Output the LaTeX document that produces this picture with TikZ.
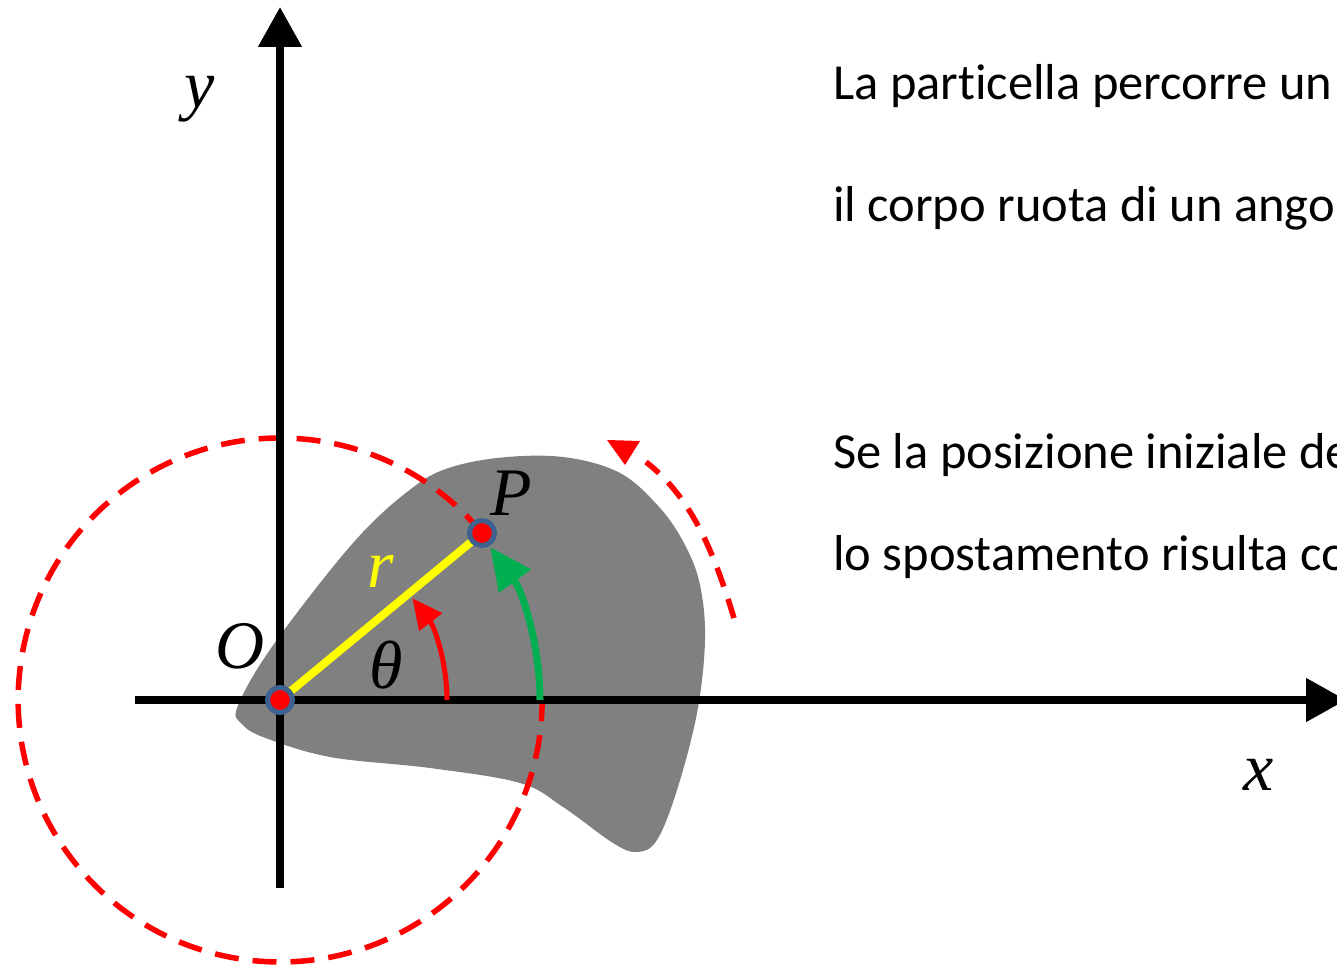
\documentclass[tikz,border=0pt]{standalone}
\usepackage{fontspec}
\setmainfont{Carlito}[Ligatures=NoCommon]
\newfontfamily\mathserif{Liberation Serif}
\usetikzlibrary{arrows.meta}
\definecolor{blobgray}{HTML}{808080}
\definecolor{pred}{HTML}{FF0000}
\definecolor{pyellow}{HTML}{FFFF00}
\definecolor{pgreen}{HTML}{00B050}
\definecolor{ringblue}{HTML}{3E6190}
\tikzset{
  axis/.style={line width=8pt,-{Triangle[length=40pt,width=42pt]}},
  circdash/.style={pred,line width=5.5pt,dash pattern=on 24pt off 14pt},
  pointdot/.style={circle,fill=pred,draw=ringblue,line width=5pt,minimum size=25pt,inner sep=0pt},
  mathlbl/.style={font=\mathserif\itshape\fontsize{68}{80}\selectfont,inner sep=0pt,anchor=base},
  bodytext/.style={font=\fontsize{50.5}{60}\selectfont,inner sep=0pt,anchor=base west},
}
\begin{document}
\begin{tikzpicture}[x=1pt,y=-1pt]
\useasboundingbox (0,0) rectangle (1337,965);
\clip (0,0) rectangle (1337,965);
% rigid body
\fill[blobgray] plot[smooth cycle,tension=0.6] coordinates {
  (237,708) (241,723) (263,737) (330,757) (430,768) (520,783) (563,807)
  (613,843) (637,852) (657,840) (677,790) (697,713) (705,640) (700,585)
  (685,545) (660,508) (620,473) (563,457) (497,458) (443,470) (407,492)
  (363,532) (313,592) (263,660)};
\coordinate (O) at (280,700);
\coordinate (P) at (482,533);
% trajectory circle
\draw[circdash] (P) arc[start angle=39.6,end angle=360,radius=262pt];
% axes
\coordinate (ybot) at (280,888);
\coordinate (ytop) at (280,7);
\coordinate (xleft) at (135,700);
\coordinate (xright) at (1346,700);
\draw[axis] (ybot) -- (ytop);
\draw[axis] (xleft) -- (xright);
% radius
\draw[pyellow,line width=8pt] (O) -- (P);
% angle arrows
\coordinate (gstart) at (540,700);
\coordinate (rstart) at (447,700);
\draw[pgreen,line width=7pt,-{Triangle[length=42pt,width=38pt]}] (gstart) arc[start angle=0,end angle=36,radius=260pt];
\draw[pred,line width=5pt,-{Triangle[length=30pt,width=28pt]}] (rstart) arc[start angle=0,end angle=37.5,radius=167pt];
% rotation direction
\coordinate (rotA) at (734,618);
\coordinate (rotB) at (646,462);
\draw[pred,line width=5.5pt,dash pattern=on 20pt off 13pt] (rotA) .. controls (716,560) and (695,500) .. (rotB);
\fill[pred] (607,440) -- (640,441) -- (625,465) -- cycle;
% points
\node[pointdot] (Odot) at (O) {};
\node[pointdot] (Pdot) at (P) {};
% labels
\node[mathlbl] (ylab) at (200,108) {y};
\node[mathlbl] (xlab) at (1259,790) {x};
\node[mathlbl] (Olab) at (240,668) {O};
\node[mathlbl] (Plab) at (511,515) {P};
\node[mathlbl,text=pyellow] (rlab) at (381,587) {r};
\node[mathlbl] (thlab) at (386,688) {θ};
% text (cut off at the right edge, as in the picture)
\node[bodytext] (t1) at (833,100) {La particella percorre un};
\node[bodytext] (t2) at (833,222) {il corpo ruota di un ango};
\node[bodytext] (t3) at (833,468) {Se la posizione iniziale de};
\node[bodytext] (t4) at (833,570) {lo spostamento risulta co};
\end{tikzpicture}
\end{document}
